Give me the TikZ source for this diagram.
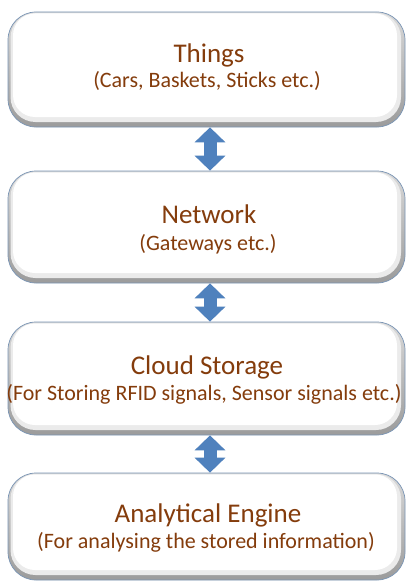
\documentclass[tikz,border=0pt]{standalone}
\usepackage{fontspec}
\setmainfont{Carlito}
\usetikzlibrary{arrows.meta}
\definecolor{txtbrown}{HTML}{843C0C}
\definecolor{arrblue}{HTML}{4F81BD}
\definecolor{edgeblue}{HTML}{7A95B5}
\tikzset{
  box/.style={rounded corners=28pt, draw=edgeblue, line width=0.7pt,
    minimum width=397pt, inner sep=0pt,
    top color=gray!30, bottom color=gray!78,
    path picture={
      \fill[gray!16, rounded corners=25pt]
        ([xshift=2.5pt,yshift=-1pt]path picture bounding box.north west) rectangle
        ([xshift=-4pt,yshift=5pt]path picture bounding box.south east);
      \fill[white, rounded corners=22pt]
        ([xshift=5pt,yshift=-1.5pt]path picture bounding box.north west) rectangle
        ([xshift=-8pt,yshift=10pt]path picture bounding box.south east);
    }},
  ttl/.style={anchor=base, text=txtbrown, font=\fontsize{27}{31}\selectfont, inner sep=0pt},
  subt/.style={anchor=base, text=txtbrown, font=\fontsize{22}{26}\selectfont, inner sep=0pt},
  dblarrow/.style={draw=arrblue, line width=13pt,
    {Triangle[width=30pt,length=15pt]}-{Triangle[width=30pt,length=15pt]}}
}
\begin{document}
\begin{tikzpicture}[x=1pt,y=-1pt]
\useasboundingbox (0,0) rectangle (409,586);
\fill[white] (0,0) rectangle (409,586);

\node[box, minimum height=115pt] (b1) at (206.5,69.5) {};
\node[box, minimum height=112pt] (b2) at (206.5,227) {};
\node[box, minimum height=113pt] (b3) at (206.5,378.5) {};
\node[box, minimum height=107pt] (b4) at (206.5,526.5) {};

\draw[dblarrow] ([xshift=3.5pt]b1.south) -- ([xshift=3.5pt]b2.north);
\draw[dblarrow] ([xshift=3.5pt]b2.south) -- ([xshift=3.5pt]b3.north);
\draw[dblarrow] ([xshift=3.5pt]b3.south) -- ([xshift=3.5pt]b4.north);

\node[ttl] (t1) at (209,63) {Things};
\node[subt] (s1) at (207,87) {(Cars, Baskets, Sticks etc.)};
\node[ttl] (t2) at (209,223) {Network};
\node[subt] (s2) at (208,250) {(Gateways etc.)};
\node[ttl] (t3) at (207,374) {Cloud Storage};
\node[subt] (s3) at (204,400) {(For Storing RFID signals, Sensor signals etc.)};
\node[ttl] (t4) at (208,522) {Analytical Engine};
\node[subt] (s4) at (206,548) {(For analysing the stored information)};
\end{tikzpicture}
\end{document}
